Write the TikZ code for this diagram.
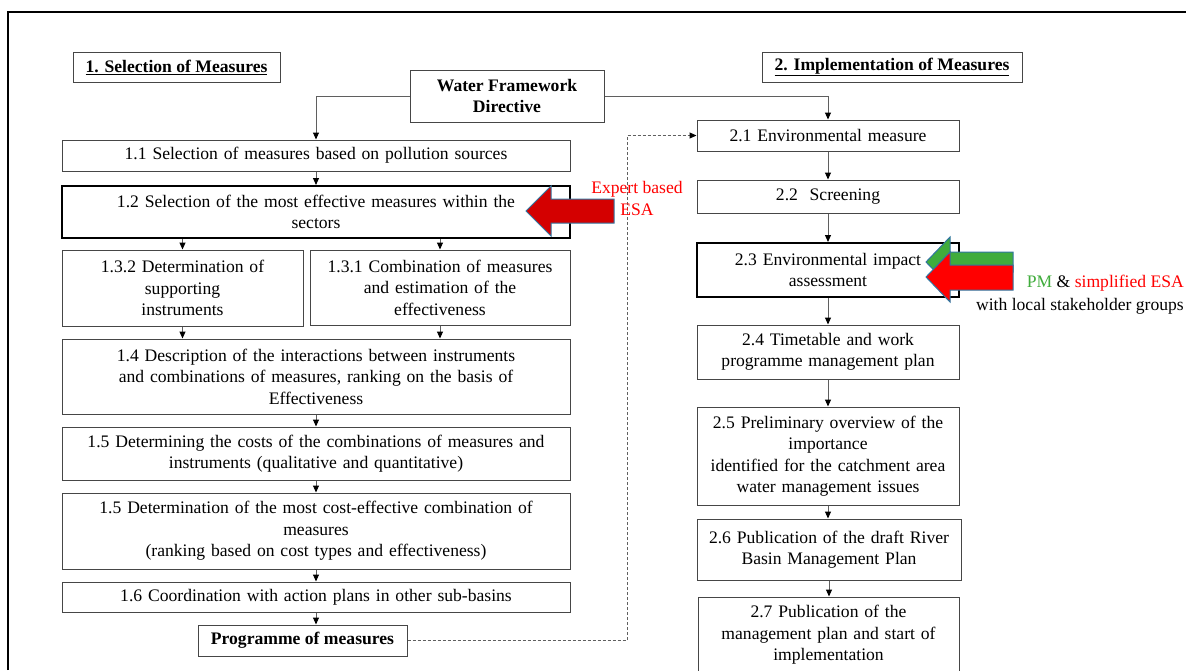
\documentclass[tikz,border=0pt]{standalone}
\usepackage{fontspec}
\setmainfont{Liberation Serif}
\usetikzlibrary{arrows.meta}

\definecolor{boxgray}{RGB}{70,70,70}
\definecolor{linegray}{RGB}{95,95,95}
\definecolor{esared}{RGB}{212,0,0}
\definecolor{pmgreen}{RGB}{64,172,60}
\definecolor{arrowblue}{RGB}{49,117,160}

\tikzset{
  box/.style={draw=boxgray, line width=1pt, fill=white, align=center, inner sep=0pt, font=\fontsize{17.6}{21.5}\selectfont},
  keybox/.style={box, draw=black, line width=2pt},
  conn/.style={color=linegray, line width=1pt, -{Triangle[length=7pt,width=6pt,color=black]}},
  dashconn/.style={conn, dash pattern=on 3pt off 2pt},
  note/.style={inner sep=0pt, font=\fontsize{17.6}{22.5}\selectfont}
}

\begin{document}
\begin{tikzpicture}[x=1pt,y=-1pt]
\useasboundingbox (0,0) rectangle (1186,670);

\draw[color=black, line width=1.5pt] (8,670) -- (8,12) -- (1186,12);

\node[box, minimum width=207, minimum height=30] (selhead) at (176.5,67) {\underline{\textbf{1. Selection of Measures}}};
\node[box, minimum width=260, minimum height=30] (implhead) at (892,67) {\underline{\textbf{2. Implementation of Measures}}};
\node[box, minimum width=194, minimum height=52] (wfd) at (507,96) {\textbf{Water Framework}\\\textbf{Directive}};

\node[box, minimum width=508, minimum height=31, text width=504] (m11) at (316,155.5) {1.1 Selection of measures based on pollution sources};
\node[keybox, minimum width=508, minimum height=52, text width=504] (m12) at (316,212) {1.2 Selection of the most effective measures within the\\ sectors};
\node[box, minimum width=241, minimum height=76, text width=237] (m132) at (182.5,288) {1.3.2 Determination of\\ supporting\\ instruments};
\node[box, minimum width=260, minimum height=75, text width=256] (m131) at (440,287.5) {1.3.1 Combination of measures\\ and estimation of the\\ effectiveness};
\node[box, minimum width=508, minimum height=75, text width=504] (m14) at (316,376.5) {1.4 Description of the interactions between instruments\\ and combinations of measures, ranking on the basis of\\ Effectiveness};
\node[box, minimum width=508, minimum height=53, text width=504] (m15a) at (316,453.5) {1.5 Determining the costs of the combinations of measures and\\ instruments (qualitative and quantitative)};
\node[box, minimum width=508, minimum height=76, text width=504] (m15b) at (316,531) {1.5 Determination of the most cost-effective combination of\\ measures\\ (ranking based on cost types and effectiveness)};
\node[box, minimum width=508, minimum height=30, text width=504] (m16) at (316,597) {1.6 Coordination with action plans in other sub-basins};
\node[box, minimum width=209, minimum height=31] (prog) at (302.5,640.5) {\textbf{Programme of measures}};

\node[box, minimum width=262, minimum height=31, text width=258] (m21) at (828,135.5) {2.1 Environmental measure};
\node[box, minimum width=262, minimum height=33, text width=258] (m22) at (828,196.5) {2.2\ \ Screening};
\node[keybox, minimum width=262, minimum height=54, text width=258] (m23) at (828,270) {2.3 Environmental impact\\ assessment};
\node[box, minimum width=262, minimum height=54, text width=258] (m24) at (828,352) {2.4 Timetable and work\\ programme management plan};
\node[box, minimum width=262, minimum height=98, text width=258] (m25) at (828,456) {2.5 Preliminary overview of the\\ importance\\ identified for the catchment area\\ water management issues};
\node[box, minimum width=264, minimum height=61, text width=260] (m26) at (829,549.5) {2.6 Publication of the draft River\\ Basin Management Plan};
\node[box, minimum width=261, minimum height=76, text width=257] (m27) at (828.5,635) {2.7 Publication of the\\ management plan and start of\\ implementation};

\draw[conn] (wfd.west) -| (m11.north);
\draw[conn] (wfd.east) -| (m21.north);

\draw[conn] (m11) -- (m12);
\draw[conn] (m12.south -| m132) -- (m132);
\draw[conn] (m12.south -| m131) -- (m131);
\draw[conn] (m132.south) -- (m132.south |- m14.north);
\draw[conn] (m131.south) -- (m131.south |- m14.north);
\draw[conn] (m14) -- (m15a);
\draw[conn] (m15a) -- (m15b);
\draw[conn] (m15b) -- (m16);
\draw[conn] (m16.south) -- (m16.south |- prog.north);

\draw[conn] (m21) -- (m22);
\draw[conn] (m22) -- (m23);
\draw[conn] (m23) -- (m24);
\draw[conn] (m24) -- (m25);
\draw[conn] (m25.south) -- (m25.south |- m26.north);
\draw[conn] (m26.south) -- (m26.south |- m27.north);

\coordinate (dashbend) at (627,640.5);
\draw[dashconn] (prog.east) -- (dashbend) |- (m21.west);

\filldraw[fill=esared, draw=arrowblue, line width=1pt] (526,211) -- (551,186) -- (551,199) -- (614,199) -- (614,223) -- (551,223) -- (551,236) -- cycle;
\node[note, text=red, align=center] (expert) at (637,198.5) {Expert based\\ESA};

\filldraw[fill=pmgreen, draw=arrowblue, line width=1pt] (926,262) -- (950,237) -- (950,252) -- (1013,252) -- (1013,272) -- (950,272) -- (950,287) -- cycle;
\filldraw[fill=red, draw=arrowblue, line width=1pt] (926,277) -- (950,252) -- (950,265) -- (1013,265) -- (1013,290) -- (950,290) -- (950,302) -- cycle;
\node[note, align=right, anchor=east] (pm) at (1184,294.5) {{\color{pmgreen}PM} \& {\color{red}simplified ESA}\\with local stakeholder groups};
\end{tikzpicture}
\end{document}
